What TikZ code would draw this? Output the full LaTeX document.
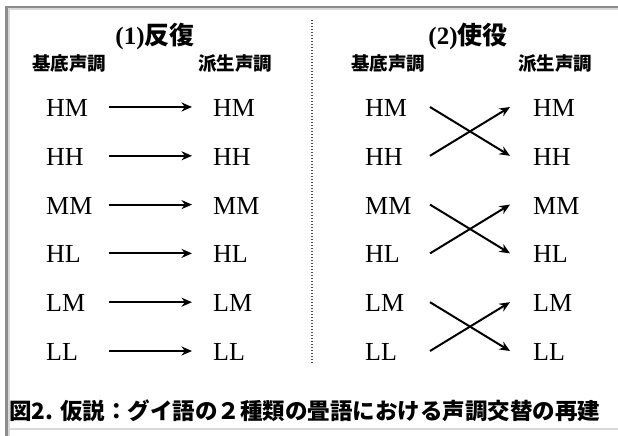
\documentclass[tikz,border=0pt]{standalone}
\usepackage{fontspec}
\setmainfont{Liberation Serif}
\newfontfamily\cjk{Noto Sans CJK JP}
\usetikzlibrary{arrows.meta,calc}
\begin{document}
\begin{tikzpicture}[x=1bp,y=-1bp,
  tone/.style={anchor=west,inner sep=0pt,font=\fontsize{26bp}{30bp}\selectfont},
  head/.style={inner sep=0pt,font=\fontsize{25bp}{28bp}\selectfont\bfseries},
  sub/.style={inner sep=0pt,font=\fontsize{18.5bp}{22bp}\selectfont\cjk\bfseries},
  captext/.style={anchor=west,inner sep=0pt,font=\fontsize{22.5bp}{26bp}\selectfont\cjk\bfseries},
  arr/.style={line width=2bp,-{Stealth[length=10.5bp,width=9bp]}},
  frameline/.style={fill=gray!90},
  frameshade/.style={fill=gray!30},
]
\fill[white] (0,0) rectangle (618,436);
\useasboundingbox (0,0) rectangle (618,436);
% frame
\path[frameline] (5,6) rectangle (618,8.5);
\path[frameshade] (7.5,8.5) rectangle (618,10.5);
\path[frameline] (5,6) rectangle (7.5,436);
\path[frameshade] (7.5,8.5) rectangle (9.5,436);
\path[frameshade] (7.5,427.5) rectangle (618,430);
% divider
\draw[line width=1.2bp,dash pattern=on 1bp off 2bp,gray!60!black] (312,20) -- (312,364);
% headers
\node[head] (h1) at (155,36) {(1){\cjk 反復}};
\node[head] (h2) at (468,36) {(2){\cjk 使役}};
\node[sub] (s1) at (69,64) {基底声調};
\node[sub] (s2) at (235,64) {派生声調};
\node[sub] (s3) at (388,64) {基底声調};
\node[sub] (s4) at (555,64) {派生声調};
% left panel
\foreach \t [count=\i] in {HM,HH,MM,HL,LM,LL}{
  \node[tone] (L\i) at (46,{108+48.8*(\i-1)}) {\t};
  \node[tone] (R\i) at (213,{108+48.8*(\i-1)}) {\t};
  \draw[arr] ($(L\i.west)+(63,-1)$) -- ($(R\i.west)+(-21,-1)$);
  \node[tone] (P\i) at (365,{108+48.8*(\i-1)}) {\t};
  \node[tone] (Q\i) at (533,{108+48.8*(\i-1)}) {\t};
}
% right panel crosses
\foreach \a/\b in {1/2,2/1,3/4,4/3,5/6,6/5}{
  \draw[arr] ($(P\a.west)+(65,-1)$) -- ($(Q\b.west)+(-23,-1)$);
}
% caption
\node[captext] (c) at (9,411) {図2. 仮説：グイ語の２種類の畳語における声調交替の再建};
\end{tikzpicture}
\end{document}
